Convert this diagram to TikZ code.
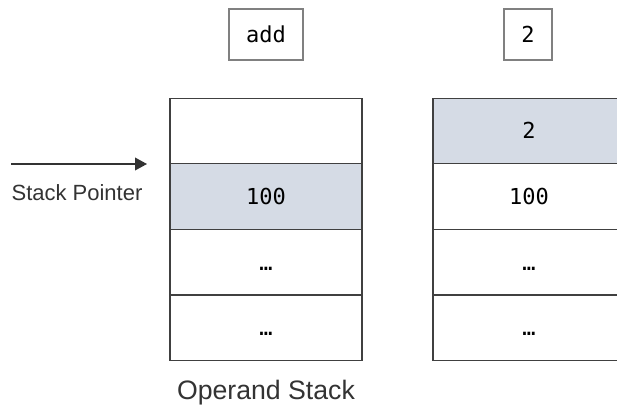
\documentclass[tikz,border=0pt]{standalone}
\usepackage{fontspec}
\setmainfont{Liberation Sans}
\setmonofont{DejaVu Sans Mono}
\usetikzlibrary{arrows.meta}
\definecolor{cellfill}{HTML}{D5DBE5}
\definecolor{celledge}{HTML}{404040}
\definecolor{opedge}{HTML}{808080}
\definecolor{labeltext}{HTML}{333333}

\tikzset{
	cell/.style={draw=celledge, line width=1.1pt, rectangle, inner sep=0pt,
		minimum width=144pt, minimum height=49.1pt, text height=12pt, text depth=0pt,
		font=\ttfamily\fontsize{16.5}{20}\selectfont},
	topcell/.style={cell, fill=cellfill},
	opbox/.style={draw=opedge, line width=1.1pt, rectangle, inner xsep=13pt, inner ysep=0pt,
		minimum height=38.25pt, text height=12pt, text depth=0pt,
		font=\ttfamily\fontsize{16.5}{20}\selectfont},
	caption/.style={text=labeltext, anchor=base}
}

\begin{document}
\begin{tikzpicture}[x=0.75pt, y=-0.75pt]
		%%%%% START %%%%%
		\clip (0, 0) rectangle (617, 406);
		\fill[white] (0, 0) rectangle (617, 406);
		
		% instructions
		\node[opbox] (opadd) at (266, 34.5) {add};
		\node[opbox] (opval) at (528, 34.5) {2};
		
		% left stack
		\node[cell] (ls1) at (266, 131) {};
		\node[topcell] (ls2) at (266, 196.5) {100};
		\node[cell] (ls3) at (266, 262) {…};
		\node[cell] (ls4) at (266, 327.5) {…};
		
		% right stack
		\node[topcell] (rs1) at (529, 131) {2};
		\node[cell] (rs2) at (529, 196.5) {100};
		\node[cell] (rs3) at (529, 262) {…};
		\node[cell] (rs4) at (529, 327.5) {…};
		
		% stack pointer
		\coordinate (sptail) at (11, 164);
		\coordinate (sphead) at (147, 164);
		\draw[line width=1.1pt, color=labeltext, -{Triangle[length=9pt, width=9.5pt]}] (sptail) -- (sphead);
		\node[caption, font=\fontsize{16.5}{20}\selectfont] (splabel) at (77, 200) {Stack Pointer};
		
		\node[caption, font=\fontsize{20}{24}\selectfont] (stacklabel) at (266, 399) {Operand Stack};
		
		%%%%% END %%%%%
	\end{tikzpicture}
\end{document}
